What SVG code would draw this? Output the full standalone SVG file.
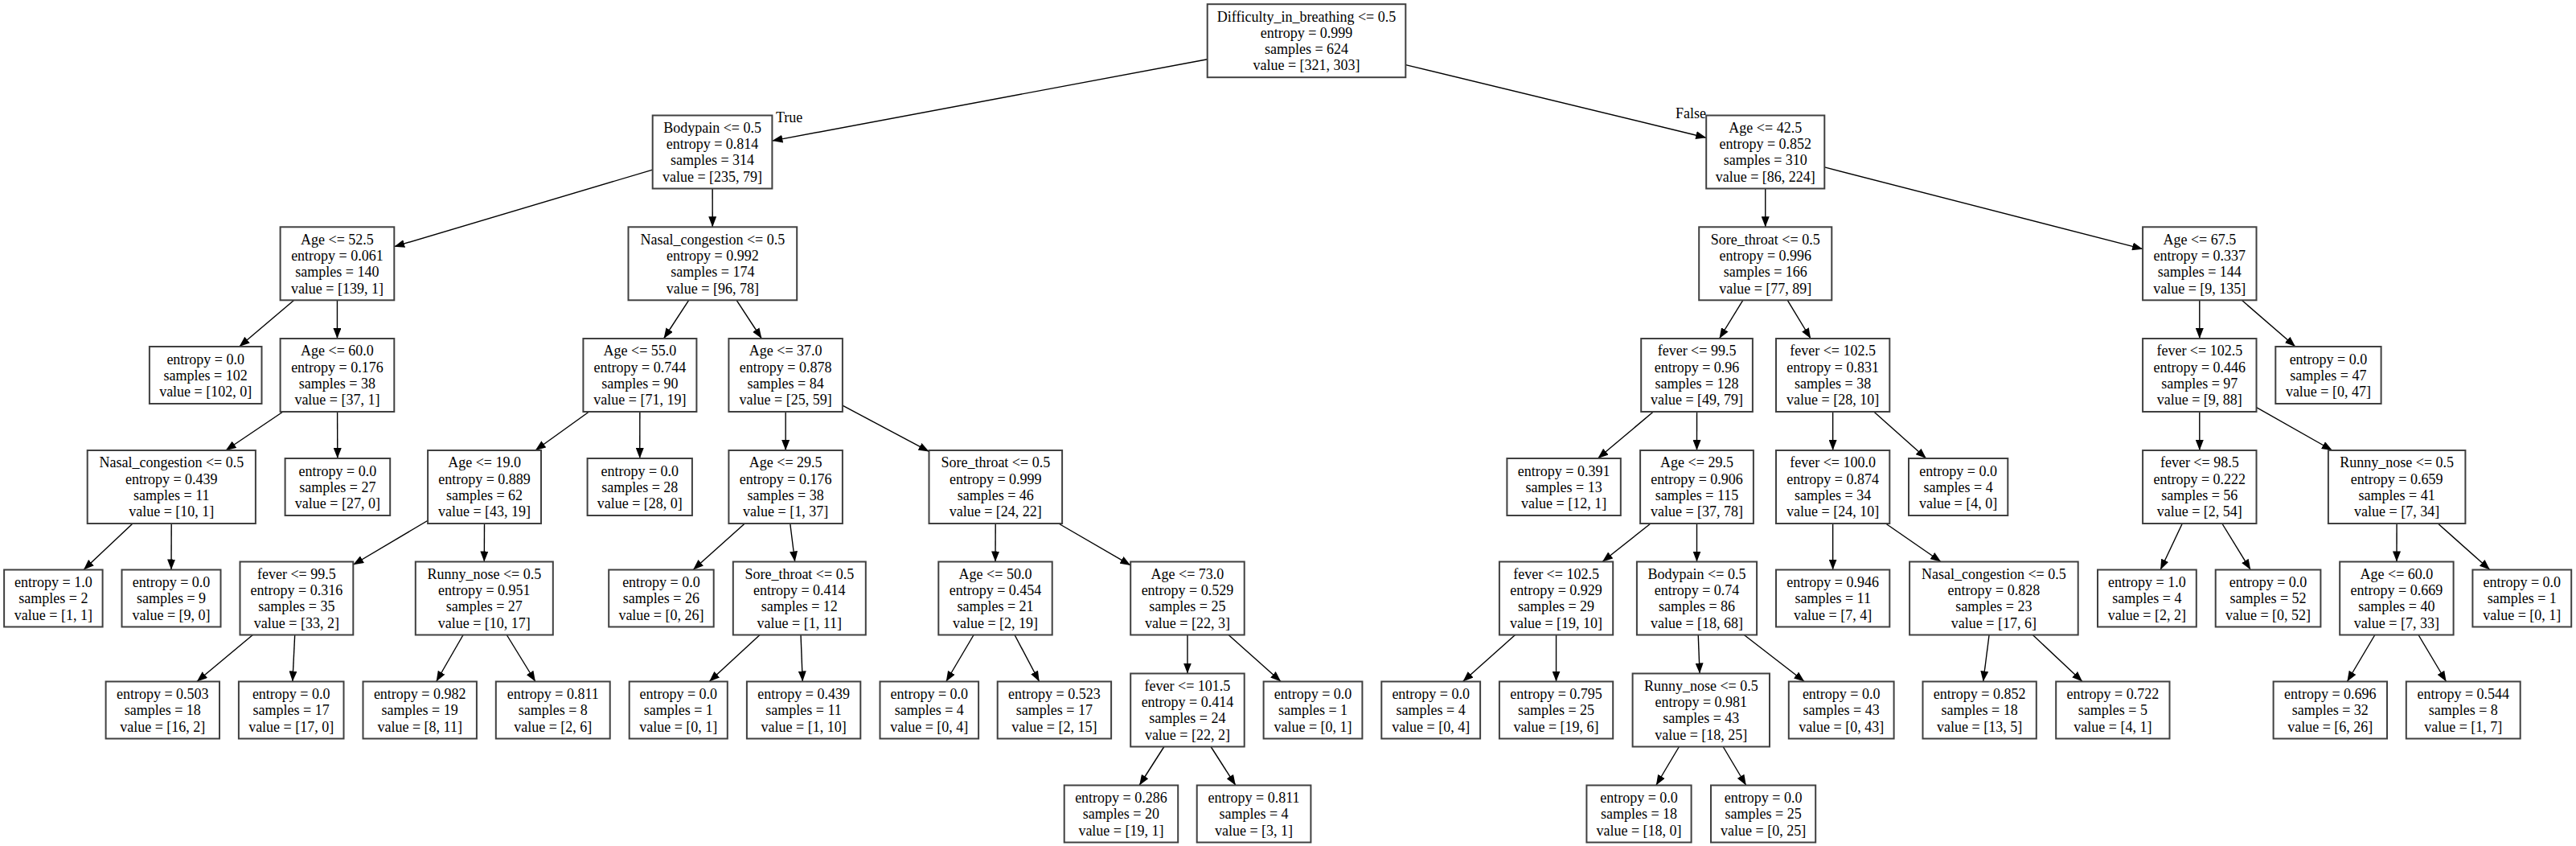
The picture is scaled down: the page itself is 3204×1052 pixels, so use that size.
<svg xmlns="http://www.w3.org/2000/svg" width="3204" height="1052" viewBox="0 0 3204 1052">
<defs>
<style>
.node rect{fill:#ffffff;stroke:#404040;stroke-width:2}
text{font-family:"Liberation Serif","Times New Roman",serif;font-size:18px;fill:#000000}
.node text{text-anchor:middle}
.e{stroke:#000000;stroke-width:1.4;fill:none;marker-end:url(#ah)}
</style>
<marker id="ah" viewBox="0 0 13 10" refX="13" refY="5" markerWidth="13" markerHeight="10" markerUnits="userSpaceOnUse" orient="auto"><path d="M0,0 L13,5 L0,10 z" fill="#000000"/></marker>
</defs>
<rect x="0" y="0" width="3204" height="1052" fill="#ffffff"/>
<g id="edges">
<line class="e" x1="1501.7" y1="73.8" x2="960.4" y2="175.1"/>
<line class="e" x1="1748.3" y1="80.6" x2="2122.2" y2="171.2"/>
<line class="e" x1="811.7" y1="211.1" x2="490.3" y2="306.7"/>
<line class="e" x1="886.15" y1="234.5" x2="886.25" y2="282.3"/>
<line class="e" x1="365.73" y1="373.3" x2="297.61" y2="431"/>
<line class="e" x1="419.45" y1="373.3" x2="419.45" y2="421"/>
<line class="e" x1="351.97" y1="512" x2="280.78" y2="560"/>
<line class="e" x1="419.6" y1="512" x2="419.8" y2="570"/>
<line class="e" x1="165.02" y1="651" x2="104.02" y2="708.5"/>
<line class="e" x1="213.2" y1="651" x2="213" y2="708.5"/>
<line class="e" x1="856.68" y1="373.3" x2="825.57" y2="421"/>
<line class="e" x1="916.14" y1="373.3" x2="947.36" y2="421"/>
<line class="e" x1="732.61" y1="512" x2="665.84" y2="560"/>
<line class="e" x1="795.85" y1="512" x2="795.75" y2="570"/>
<line class="e" x1="532.1" y1="647.26" x2="439.3" y2="702.27"/>
<line class="e" x1="602.5" y1="651" x2="602.3" y2="698.5"/>
<line class="e" x1="314.37" y1="789.5" x2="244.85" y2="847.5"/>
<line class="e" x1="366.7" y1="789.5" x2="363.9" y2="847.5"/>
<line class="e" x1="576.08" y1="789.5" x2="542.66" y2="847.5"/>
<line class="e" x1="630.27" y1="789.5" x2="665.93" y2="847.5"/>
<line class="e" x1="977.15" y1="512" x2="977.15" y2="560"/>
<line class="e" x1="1047.9" y1="504.16" x2="1155.5" y2="561.43"/>
<line class="e" x1="926.33" y1="651" x2="862.1" y2="708.5"/>
<line class="e" x1="982.78" y1="651" x2="988.67" y2="698.5"/>
<line class="e" x1="945.02" y1="789.5" x2="882.2" y2="847.5"/>
<line class="e" x1="996.03" y1="789.5" x2="998.25" y2="847.5"/>
<line class="e" x1="1238.2" y1="651" x2="1238" y2="698.5"/>
<line class="e" x1="1316.7" y1="651" x2="1406.2" y2="702.94"/>
<line class="e" x1="1211.09" y1="789.5" x2="1176.79" y2="847.5"/>
<line class="e" x1="1262.03" y1="789.5" x2="1292.65" y2="847.5"/>
<line class="e" x1="1476.95" y1="789.5" x2="1476.95" y2="837.5"/>
<line class="e" x1="1528.03" y1="789.5" x2="1593.14" y2="847.5"/>
<line class="e" x1="1447.85" y1="928.5" x2="1417.15" y2="976.5"/>
<line class="e" x1="1506.08" y1="928.5" x2="1536.82" y2="976.5"/>
<line class="e" x1="2195.75" y1="234.5" x2="2195.75" y2="282.3"/>
<line class="e" x1="2269.3" y1="207.9" x2="2665.1" y2="309.63"/>
<line class="e" x1="2167.8" y1="373.3" x2="2138.5" y2="421"/>
<line class="e" x1="2223.27" y1="373.3" x2="2252.13" y2="421"/>
<line class="e" x1="2056.39" y1="512" x2="1987.36" y2="570"/>
<line class="e" x1="2110.55" y1="512" x2="2110.5" y2="560"/>
<line class="e" x1="2053.03" y1="651" x2="1993.02" y2="698.5"/>
<line class="e" x1="2110.5" y1="651" x2="2110.5" y2="698.5"/>
<line class="e" x1="1884.53" y1="789.5" x2="1819.5" y2="847.5"/>
<line class="e" x1="1935.55" y1="789.5" x2="1935.55" y2="847.5"/>
<line class="e" x1="2112.23" y1="789.5" x2="2114.07" y2="837.5"/>
<line class="e" x1="2169.32" y1="789.5" x2="2244.3" y2="847.5"/>
<line class="e" x1="2088.43" y1="928.5" x2="2059.85" y2="976.5"/>
<line class="e" x1="2143.17" y1="928.5" x2="2171.75" y2="976.5"/>
<line class="e" x1="2279.65" y1="512" x2="2279.65" y2="560"/>
<line class="e" x1="2330.72" y1="512" x2="2395.81" y2="570"/>
<line class="e" x1="2279.65" y1="651" x2="2279.65" y2="708.5"/>
<line class="e" x1="2345.44" y1="651" x2="2414.11" y2="698.5"/>
<line class="e" x1="2474.09" y1="789.5" x2="2466.68" y2="847.5"/>
<line class="e" x1="2528.33" y1="789.5" x2="2590.06" y2="847.5"/>
<line class="e" x1="2735.8" y1="373.3" x2="2735.8" y2="421"/>
<line class="e" x1="2788.34" y1="373.3" x2="2854.96" y2="431"/>
<line class="e" x1="2735.8" y1="512" x2="2735.8" y2="560"/>
<line class="e" x1="2806.5" y1="506.55" x2="2900.84" y2="560"/>
<line class="e" x1="2714.31" y1="651" x2="2687.16" y2="708.5"/>
<line class="e" x1="2763.81" y1="651" x2="2799.2" y2="708.5"/>
<line class="e" x1="2981.07" y1="651" x2="2980.98" y2="698.5"/>
<line class="e" x1="3032.28" y1="651" x2="3096.9" y2="708.5"/>
<line class="e" x1="2953.86" y1="789.5" x2="2919.4" y2="847.5"/>
<line class="e" x1="3008.02" y1="789.5" x2="3042.59" y2="847.5"/>
<text x="965" y="152">True</text>
<text x="2084" y="147">False</text>
</g>
<g id="n0" class="node"><rect x="1501.7" y="5.2" width="246.6" height="91"/><text y="26.5"><tspan x="1625">Difficulty_in_breathing &lt;= 0.5</tspan><tspan x="1625" dy="20.3">entropy = 0.999</tspan><tspan x="1625" dy="20.3">samples = 624</tspan><tspan x="1625" dy="20.3">value = [321, 303]</tspan></text></g>
<g id="n1" class="node"><rect x="811.7" y="143.5" width="148.7" height="91"/><text y="164.8"><tspan x="886.05">Bodypain &lt;= 0.5</tspan><tspan x="886.05" dy="20.3">entropy = 0.814</tspan><tspan x="886.05" dy="20.3">samples = 314</tspan><tspan x="886.05" dy="20.3">value = [235, 79]</tspan></text></g>
<g id="n2" class="node"><rect x="348.6" y="282.3" width="141.7" height="91"/><text y="303.6"><tspan x="419.45">Age &lt;= 52.5</tspan><tspan x="419.45" dy="20.3">entropy = 0.061</tspan><tspan x="419.45" dy="20.3">samples = 140</tspan><tspan x="419.45" dy="20.3">value = [139, 1]</tspan></text></g>
<g id="n3" class="node"><rect x="185.9" y="431" width="139.6" height="71"/><text y="452.5"><tspan x="255.7">entropy = 0.0</tspan><tspan x="255.7" dy="20.3">samples = 102</tspan><tspan x="255.7" dy="20.3">value = [102, 0]</tspan></text></g>
<g id="n4" class="node"><rect x="348.6" y="421" width="141.7" height="91"/><text y="442.3"><tspan x="419.45">Age &lt;= 60.0</tspan><tspan x="419.45" dy="20.3">entropy = 0.176</tspan><tspan x="419.45" dy="20.3">samples = 38</tspan><tspan x="419.45" dy="20.3">value = [37, 1]</tspan></text></g>
<g id="n5" class="node"><rect x="108.7" y="560" width="209.2" height="91"/><text y="581.3"><tspan x="213.3">Nasal_congestion &lt;= 0.5</tspan><tspan x="213.3" dy="20.3">entropy = 0.439</tspan><tspan x="213.3" dy="20.3">samples = 11</tspan><tspan x="213.3" dy="20.3">value = [10, 1]</tspan></text></g>
<g id="n6" class="node"><rect x="5.1" y="708.5" width="122.5" height="71"/><text y="730"><tspan x="66.35">entropy = 1.0</tspan><tspan x="66.35" dy="20.3">samples = 2</tspan><tspan x="66.35" dy="20.3">value = [1, 1]</tspan></text></g>
<g id="n7" class="node"><rect x="151.5" y="708.5" width="123" height="71"/><text y="730"><tspan x="213">entropy = 0.0</tspan><tspan x="213" dy="20.3">samples = 9</tspan><tspan x="213" dy="20.3">value = [9, 0]</tspan></text></g>
<g id="n8" class="node"><rect x="354.6" y="570" width="130.6" height="71"/><text y="591.5"><tspan x="419.9">entropy = 0.0</tspan><tspan x="419.9" dy="20.3">samples = 27</tspan><tspan x="419.9" dy="20.3">value = [27, 0]</tspan></text></g>
<g id="n9" class="node"><rect x="781.5" y="282.3" width="209.7" height="91"/><text y="303.6"><tspan x="886.35">Nasal_congestion &lt;= 0.5</tspan><tspan x="886.35" dy="20.3">entropy = 0.992</tspan><tspan x="886.35" dy="20.3">samples = 174</tspan><tspan x="886.35" dy="20.3">value = [96, 78]</tspan></text></g>
<g id="n10" class="node"><rect x="725.4" y="421" width="141" height="91"/><text y="442.3"><tspan x="795.9">Age &lt;= 55.0</tspan><tspan x="795.9" dy="20.3">entropy = 0.744</tspan><tspan x="795.9" dy="20.3">samples = 90</tspan><tspan x="795.9" dy="20.3">value = [71, 19]</tspan></text></g>
<g id="n11" class="node"><rect x="532.1" y="560" width="140.9" height="91"/><text y="581.3"><tspan x="602.55">Age &lt;= 19.0</tspan><tspan x="602.55" dy="20.3">entropy = 0.889</tspan><tspan x="602.55" dy="20.3">samples = 62</tspan><tspan x="602.55" dy="20.3">value = [43, 19]</tspan></text></g>
<g id="n12" class="node"><rect x="298.5" y="698.5" width="140.8" height="91"/><text y="719.8"><tspan x="368.9">fever &lt;= 99.5</tspan><tspan x="368.9" dy="20.3">entropy = 0.316</tspan><tspan x="368.9" dy="20.3">samples = 35</tspan><tspan x="368.9" dy="20.3">value = [33, 2]</tspan></text></g>
<g id="n13" class="node"><rect x="131.6" y="847.5" width="141.4" height="71"/><text y="869"><tspan x="202.3">entropy = 0.503</tspan><tspan x="202.3" dy="20.3">samples = 18</tspan><tspan x="202.3" dy="20.3">value = [16, 2]</tspan></text></g>
<g id="n14" class="node"><rect x="296.9" y="847.5" width="130.6" height="71"/><text y="869"><tspan x="362.2">entropy = 0.0</tspan><tspan x="362.2" dy="20.3">samples = 17</tspan><tspan x="362.2" dy="20.3">value = [17, 0]</tspan></text></g>
<g id="n15" class="node"><rect x="516.8" y="698.5" width="171" height="91"/><text y="719.8"><tspan x="602.3">Runny_nose &lt;= 0.5</tspan><tspan x="602.3" dy="20.3">entropy = 0.951</tspan><tspan x="602.3" dy="20.3">samples = 27</tspan><tspan x="602.3" dy="20.3">value = [10, 17]</tspan></text></g>
<g id="n16" class="node"><rect x="451.5" y="847.5" width="141.4" height="71"/><text y="869"><tspan x="522.2">entropy = 0.982</tspan><tspan x="522.2" dy="20.3">samples = 19</tspan><tspan x="522.2" dy="20.3">value = [8, 11]</tspan></text></g>
<g id="n17" class="node"><rect x="616.8" y="847.5" width="141.9" height="71"/><text y="869"><tspan x="687.75">entropy = 0.811</tspan><tspan x="687.75" dy="20.3">samples = 8</tspan><tspan x="687.75" dy="20.3">value = [2, 6]</tspan></text></g>
<g id="n18" class="node"><rect x="730.6" y="570" width="130.3" height="71"/><text y="591.5"><tspan x="795.75">entropy = 0.0</tspan><tspan x="795.75" dy="20.3">samples = 28</tspan><tspan x="795.75" dy="20.3">value = [28, 0]</tspan></text></g>
<g id="n19" class="node"><rect x="906.4" y="421" width="141.5" height="91"/><text y="442.3"><tspan x="977.15">Age &lt;= 37.0</tspan><tspan x="977.15" dy="20.3">entropy = 0.878</tspan><tspan x="977.15" dy="20.3">samples = 84</tspan><tspan x="977.15" dy="20.3">value = [25, 59]</tspan></text></g>
<g id="n20" class="node"><rect x="906.4" y="560" width="141.5" height="91"/><text y="581.3"><tspan x="977.15">Age &lt;= 29.5</tspan><tspan x="977.15" dy="20.3">entropy = 0.176</tspan><tspan x="977.15" dy="20.3">samples = 38</tspan><tspan x="977.15" dy="20.3">value = [1, 37]</tspan></text></g>
<g id="n21" class="node"><rect x="757.2" y="708.5" width="130.5" height="71"/><text y="730"><tspan x="822.45">entropy = 0.0</tspan><tspan x="822.45" dy="20.3">samples = 26</tspan><tspan x="822.45" dy="20.3">value = [0, 26]</tspan></text></g>
<g id="n22" class="node"><rect x="911.8" y="698.5" width="165" height="91"/><text y="719.8"><tspan x="994.3">Sore_throat &lt;= 0.5</tspan><tspan x="994.3" dy="20.3">entropy = 0.414</tspan><tspan x="994.3" dy="20.3">samples = 12</tspan><tspan x="994.3" dy="20.3">value = [1, 11]</tspan></text></g>
<g id="n23" class="node"><rect x="782.7" y="847.5" width="122.1" height="71"/><text y="869"><tspan x="843.75">entropy = 0.0</tspan><tspan x="843.75" dy="20.3">samples = 1</tspan><tspan x="843.75" dy="20.3">value = [0, 1]</tspan></text></g>
<g id="n24" class="node"><rect x="928.9" y="847.5" width="141.4" height="71"/><text y="869"><tspan x="999.6">entropy = 0.439</tspan><tspan x="999.6" dy="20.3">samples = 11</tspan><tspan x="999.6" dy="20.3">value = [1, 10]</tspan></text></g>
<g id="n25" class="node"><rect x="1155.5" y="560" width="165.6" height="91"/><text y="581.3"><tspan x="1238.3">Sore_throat &lt;= 0.5</tspan><tspan x="1238.3" dy="20.3">entropy = 0.999</tspan><tspan x="1238.3" dy="20.3">samples = 46</tspan><tspan x="1238.3" dy="20.3">value = [24, 22]</tspan></text></g>
<g id="n26" class="node"><rect x="1167.3" y="698.5" width="141.4" height="91"/><text y="719.8"><tspan x="1238">Age &lt;= 50.0</tspan><tspan x="1238" dy="20.3">entropy = 0.454</tspan><tspan x="1238" dy="20.3">samples = 21</tspan><tspan x="1238" dy="20.3">value = [2, 19]</tspan></text></g>
<g id="n27" class="node"><rect x="1094.5" y="847.5" width="122.6" height="71"/><text y="869"><tspan x="1155.8">entropy = 0.0</tspan><tspan x="1155.8" dy="20.3">samples = 4</tspan><tspan x="1155.8" dy="20.3">value = [0, 4]</tspan></text></g>
<g id="n28" class="node"><rect x="1240.7" y="847.5" width="141.4" height="71"/><text y="869"><tspan x="1311.4">entropy = 0.523</tspan><tspan x="1311.4" dy="20.3">samples = 17</tspan><tspan x="1311.4" dy="20.3">value = [2, 15]</tspan></text></g>
<g id="n29" class="node"><rect x="1406.2" y="698.5" width="141.5" height="91"/><text y="719.8"><tspan x="1476.95">Age &lt;= 73.0</tspan><tspan x="1476.95" dy="20.3">entropy = 0.529</tspan><tspan x="1476.95" dy="20.3">samples = 25</tspan><tspan x="1476.95" dy="20.3">value = [22, 3]</tspan></text></g>
<g id="n30" class="node"><rect x="1406.2" y="837.5" width="141.5" height="91"/><text y="858.8"><tspan x="1476.95">fever &lt;= 101.5</tspan><tspan x="1476.95" dy="20.3">entropy = 0.414</tspan><tspan x="1476.95" dy="20.3">samples = 24</tspan><tspan x="1476.95" dy="20.3">value = [22, 2]</tspan></text></g>
<g id="n31" class="node"><rect x="1323.7" y="976.5" width="141.5" height="71"/><text y="998"><tspan x="1394.45">entropy = 0.286</tspan><tspan x="1394.45" dy="20.3">samples = 20</tspan><tspan x="1394.45" dy="20.3">value = [19, 1]</tspan></text></g>
<g id="n32" class="node"><rect x="1488.7" y="976.5" width="141.7" height="71"/><text y="998"><tspan x="1559.55">entropy = 0.811</tspan><tspan x="1559.55" dy="20.3">samples = 4</tspan><tspan x="1559.55" dy="20.3">value = [3, 1]</tspan></text></g>
<g id="n33" class="node"><rect x="1571.6" y="847.5" width="122.8" height="71"/><text y="869"><tspan x="1633">entropy = 0.0</tspan><tspan x="1633" dy="20.3">samples = 1</tspan><tspan x="1633" dy="20.3">value = [0, 1]</tspan></text></g>
<g id="n34" class="node"><rect x="2122.2" y="143.5" width="147.1" height="91"/><text y="164.8"><tspan x="2195.75">Age &lt;= 42.5</tspan><tspan x="2195.75" dy="20.3">entropy = 0.852</tspan><tspan x="2195.75" dy="20.3">samples = 310</tspan><tspan x="2195.75" dy="20.3">value = [86, 224]</tspan></text></g>
<g id="n35" class="node"><rect x="2113.2" y="282.3" width="165.1" height="91"/><text y="303.6"><tspan x="2195.75">Sore_throat &lt;= 0.5</tspan><tspan x="2195.75" dy="20.3">entropy = 0.996</tspan><tspan x="2195.75" dy="20.3">samples = 166</tspan><tspan x="2195.75" dy="20.3">value = [77, 89]</tspan></text></g>
<g id="n36" class="node"><rect x="2041.2" y="421" width="138.7" height="91"/><text y="442.3"><tspan x="2110.55">fever &lt;= 99.5</tspan><tspan x="2110.55" dy="20.3">entropy = 0.96</tspan><tspan x="2110.55" dy="20.3">samples = 128</tspan><tspan x="2110.55" dy="20.3">value = [49, 79]</tspan></text></g>
<g id="n37" class="node"><rect x="1874.4" y="570" width="141.4" height="71"/><text y="591.5"><tspan x="1945.1">entropy = 0.391</tspan><tspan x="1945.1" dy="20.3">samples = 13</tspan><tspan x="1945.1" dy="20.3">value = [12, 1]</tspan></text></g>
<g id="n38" class="node"><rect x="2040.1" y="560" width="140.8" height="91"/><text y="581.3"><tspan x="2110.5">Age &lt;= 29.5</tspan><tspan x="2110.5" dy="20.3">entropy = 0.906</tspan><tspan x="2110.5" dy="20.3">samples = 115</tspan><tspan x="2110.5" dy="20.3">value = [37, 78]</tspan></text></g>
<g id="n39" class="node"><rect x="1864.9" y="698.5" width="141.3" height="91"/><text y="719.8"><tspan x="1935.55">fever &lt;= 102.5</tspan><tspan x="1935.55" dy="20.3">entropy = 0.929</tspan><tspan x="1935.55" dy="20.3">samples = 29</tspan><tspan x="1935.55" dy="20.3">value = [19, 10]</tspan></text></g>
<g id="n40" class="node"><rect x="1718.3" y="847.5" width="122.8" height="71"/><text y="869"><tspan x="1779.7">entropy = 0.0</tspan><tspan x="1779.7" dy="20.3">samples = 4</tspan><tspan x="1779.7" dy="20.3">value = [0, 4]</tspan></text></g>
<g id="n41" class="node"><rect x="1864.9" y="847.5" width="141.3" height="71"/><text y="869"><tspan x="1935.55">entropy = 0.795</tspan><tspan x="1935.55" dy="20.3">samples = 25</tspan><tspan x="1935.55" dy="20.3">value = [19, 6]</tspan></text></g>
<g id="n42" class="node"><rect x="2035.9" y="698.5" width="149.2" height="91"/><text y="719.8"><tspan x="2110.5">Bodypain &lt;= 0.5</tspan><tspan x="2110.5" dy="20.3">entropy = 0.74</tspan><tspan x="2110.5" dy="20.3">samples = 86</tspan><tspan x="2110.5" dy="20.3">value = [18, 68]</tspan></text></g>
<g id="n43" class="node"><rect x="2030.6" y="837.5" width="170.4" height="91"/><text y="858.8"><tspan x="2115.8">Runny_nose &lt;= 0.5</tspan><tspan x="2115.8" dy="20.3">entropy = 0.981</tspan><tspan x="2115.8" dy="20.3">samples = 43</tspan><tspan x="2115.8" dy="20.3">value = [18, 25]</tspan></text></g>
<g id="n44" class="node"><rect x="1973.4" y="976.5" width="130.2" height="71"/><text y="998"><tspan x="2038.5">entropy = 0.0</tspan><tspan x="2038.5" dy="20.3">samples = 18</tspan><tspan x="2038.5" dy="20.3">value = [18, 0]</tspan></text></g>
<g id="n45" class="node"><rect x="2128" y="976.5" width="130.2" height="71"/><text y="998"><tspan x="2193.1">entropy = 0.0</tspan><tspan x="2193.1" dy="20.3">samples = 25</tspan><tspan x="2193.1" dy="20.3">value = [0, 25]</tspan></text></g>
<g id="n46" class="node"><rect x="2224.8" y="847.5" width="130.8" height="71"/><text y="869"><tspan x="2290.2">entropy = 0.0</tspan><tspan x="2290.2" dy="20.3">samples = 43</tspan><tspan x="2290.2" dy="20.3">value = [0, 43]</tspan></text></g>
<g id="n47" class="node"><rect x="2209" y="421" width="141.3" height="91"/><text y="442.3"><tspan x="2279.65">fever &lt;= 102.5</tspan><tspan x="2279.65" dy="20.3">entropy = 0.831</tspan><tspan x="2279.65" dy="20.3">samples = 38</tspan><tspan x="2279.65" dy="20.3">value = [28, 10]</tspan></text></g>
<g id="n48" class="node"><rect x="2209" y="560" width="141.3" height="91"/><text y="581.3"><tspan x="2279.65">fever &lt;= 100.0</tspan><tspan x="2279.65" dy="20.3">entropy = 0.874</tspan><tspan x="2279.65" dy="20.3">samples = 34</tspan><tspan x="2279.65" dy="20.3">value = [24, 10]</tspan></text></g>
<g id="n49" class="node"><rect x="2209" y="708.5" width="141.3" height="71"/><text y="730"><tspan x="2279.65">entropy = 0.946</tspan><tspan x="2279.65" dy="20.3">samples = 11</tspan><tspan x="2279.65" dy="20.3">value = [7, 4]</tspan></text></g>
<g id="n50" class="node"><rect x="2375.1" y="698.5" width="209.6" height="91"/><text y="719.8"><tspan x="2479.9">Nasal_congestion &lt;= 0.5</tspan><tspan x="2479.9" dy="20.3">entropy = 0.828</tspan><tspan x="2479.9" dy="20.3">samples = 23</tspan><tspan x="2479.9" dy="20.3">value = [17, 6]</tspan></text></g>
<g id="n51" class="node"><rect x="2391.5" y="847.5" width="141.3" height="71"/><text y="869"><tspan x="2462.15">entropy = 0.852</tspan><tspan x="2462.15" dy="20.3">samples = 18</tspan><tspan x="2462.15" dy="20.3">value = [13, 5]</tspan></text></g>
<g id="n52" class="node"><rect x="2557.2" y="847.5" width="141.3" height="71"/><text y="869"><tspan x="2627.85">entropy = 0.722</tspan><tspan x="2627.85" dy="20.3">samples = 5</tspan><tspan x="2627.85" dy="20.3">value = [4, 1]</tspan></text></g>
<g id="n53" class="node"><rect x="2374" y="570" width="123.3" height="71"/><text y="591.5"><tspan x="2435.65">entropy = 0.0</tspan><tspan x="2435.65" dy="20.3">samples = 4</tspan><tspan x="2435.65" dy="20.3">value = [4, 0]</tspan></text></g>
<g id="n54" class="node"><rect x="2665.1" y="282.3" width="141.4" height="91"/><text y="303.6"><tspan x="2735.8">Age &lt;= 67.5</tspan><tspan x="2735.8" dy="20.3">entropy = 0.337</tspan><tspan x="2735.8" dy="20.3">samples = 144</tspan><tspan x="2735.8" dy="20.3">value = [9, 135]</tspan></text></g>
<g id="n55" class="node"><rect x="2665.1" y="421" width="141.4" height="91"/><text y="442.3"><tspan x="2735.8">fever &lt;= 102.5</tspan><tspan x="2735.8" dy="20.3">entropy = 0.446</tspan><tspan x="2735.8" dy="20.3">samples = 97</tspan><tspan x="2735.8" dy="20.3">value = [9, 88]</tspan></text></g>
<g id="n56" class="node"><rect x="2665.1" y="560" width="141.4" height="91"/><text y="581.3"><tspan x="2735.8">fever &lt;= 98.5</tspan><tspan x="2735.8" dy="20.3">entropy = 0.222</tspan><tspan x="2735.8" dy="20.3">samples = 56</tspan><tspan x="2735.8" dy="20.3">value = [2, 54]</tspan></text></g>
<g id="n57" class="node"><rect x="2609" y="708.5" width="122.8" height="71"/><text y="730"><tspan x="2670.4">entropy = 1.0</tspan><tspan x="2670.4" dy="20.3">samples = 4</tspan><tspan x="2670.4" dy="20.3">value = [2, 2]</tspan></text></g>
<g id="n58" class="node"><rect x="2755.7" y="708.5" width="130.7" height="71"/><text y="730"><tspan x="2821.05">entropy = 0.0</tspan><tspan x="2821.05" dy="20.3">samples = 52</tspan><tspan x="2821.05" dy="20.3">value = [0, 52]</tspan></text></g>
<g id="n59" class="node"><rect x="2895.9" y="560" width="170.5" height="91"/><text y="581.3"><tspan x="2981.15">Runny_nose &lt;= 0.5</tspan><tspan x="2981.15" dy="20.3">entropy = 0.659</tspan><tspan x="2981.15" dy="20.3">samples = 41</tspan><tspan x="2981.15" dy="20.3">value = [7, 34]</tspan></text></g>
<g id="n60" class="node"><rect x="2910.2" y="698.5" width="141.4" height="91"/><text y="719.8"><tspan x="2980.9">Age &lt;= 60.0</tspan><tspan x="2980.9" dy="20.3">entropy = 0.669</tspan><tspan x="2980.9" dy="20.3">samples = 40</tspan><tspan x="2980.9" dy="20.3">value = [7, 33]</tspan></text></g>
<g id="n61" class="node"><rect x="2827.6" y="847.5" width="141.4" height="71"/><text y="869"><tspan x="2898.3">entropy = 0.696</tspan><tspan x="2898.3" dy="20.3">samples = 32</tspan><tspan x="2898.3" dy="20.3">value = [6, 26]</tspan></text></g>
<g id="n62" class="node"><rect x="2992.8" y="847.5" width="141.9" height="71"/><text y="869"><tspan x="3063.75">entropy = 0.544</tspan><tspan x="3063.75" dy="20.3">samples = 8</tspan><tspan x="3063.75" dy="20.3">value = [1, 7]</tspan></text></g>
<g id="n63" class="node"><rect x="3075.4" y="708.5" width="122.8" height="71"/><text y="730"><tspan x="3136.8">entropy = 0.0</tspan><tspan x="3136.8" dy="20.3">samples = 1</tspan><tspan x="3136.8" dy="20.3">value = [0, 1]</tspan></text></g>
<g id="n64" class="node"><rect x="2830.3" y="431" width="131.3" height="71"/><text y="452.5"><tspan x="2895.95">entropy = 0.0</tspan><tspan x="2895.95" dy="20.3">samples = 47</tspan><tspan x="2895.95" dy="20.3">value = [0, 47]</tspan></text></g>
</svg>
